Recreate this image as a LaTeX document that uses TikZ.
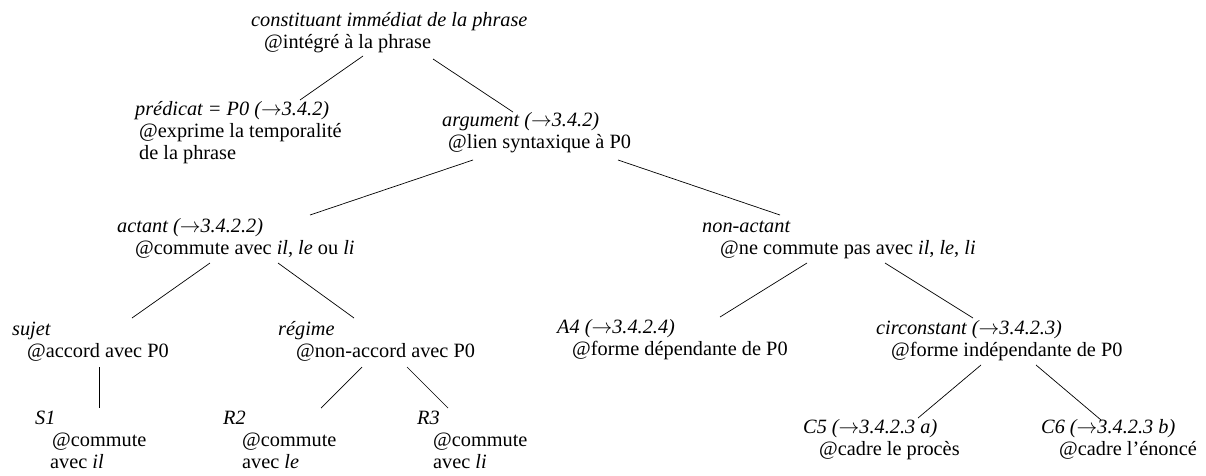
\documentclass[tikz,border=0pt]{standalone}
\usepackage{fontspec}
\setmainfont{Liberation Serif}
\newcommand{\ra}{\ensuremath{\rightarrow}}

\begin{document}
\begin{tikzpicture}[x=1pt,y=-1pt,lab/.style={anchor=north west,inner sep=0pt,align=left,font=\fontsize{20.3}{22}\selectfont},edge/.style={line width=0.7pt}]
\useasboundingbox (0,0) rectangle (1206,475);
% level 0 and 1
\node[lab] (root) at (251,11) {\strut\textit{constituant immédiat de la phrase}\\\hspace*{13pt}@intégré à la phrase};
\node[lab] (pred) at (135,100) {\strut\textit{prédicat = P0 (\ra3.4.2)}\\\hspace*{4pt}@exprime la temporalité\\\hspace*{4pt}de la phrase};
\node[lab] (arg) at (442,111) {\strut\textit{argument (\ra3.4.2)}\\\hspace*{6pt}@lien syntaxique à P0};
% level 2
\node[lab] (act) at (117,217) {\strut\textit{actant (\ra3.4.2.2)}\\\hspace*{18pt}@commute avec \textit{il}, \textit{le} ou \textit{li}};
\node[lab] (nonact) at (702,217) {\strut\textit{non-actant}\\\hspace*{18pt}@ne commute pas avec \textit{il}, \textit{le}, \textit{li}};
% level 3
\node[lab] (suj) at (12,320) {\strut\textit{sujet}\\\hspace*{15pt}@accord avec P0};
\node[lab] (reg) at (278,320) {\strut\textit{régime}\\\hspace*{18pt}@non-accord avec P0};
\node[lab] (a4) at (557,318) {\strut\textit{A4 (\ra3.4.2.4)}\\\hspace*{15pt}@forme dépendante de P0};
\node[lab] (circ) at (876,319) {\strut\textit{circonstant (\ra3.4.2.3)}\\\hspace*{15pt}@forme indépendante de P0};
% level 4
\node[lab] (s1) at (35,409) {\strut\textit{S1}\\\hspace*{17pt}@commute\\\hspace*{15pt}avec \textit{il}};
\node[lab] (r2) at (223,409) {\strut\textit{R2}\\\hspace*{19pt}@commute\\\hspace*{19pt}avec \textit{le}};
\node[lab] (r3) at (417,409) {\strut\textit{R3}\\\hspace*{16pt}@commute\\\hspace*{16pt}avec \textit{li}};
\node[lab] (c5) at (803,418) {\strut\textit{C5 (\ra3.4.2.3 a)}\\\hspace*{16pt}@cadre le procès};
\node[lab] (c6) at (1041,418) {\strut\textit{C6 (\ra3.4.2.3 b)}\\\hspace*{18pt}@cadre l’énoncé};
% branches
\draw[edge] ([shift={(112,45)}]root.north west) -- ([shift={(165,0)}]pred.north west);
\draw[edge] ([shift={(182,48)}]root.north west) -- ([shift={(71,1)}]arg.north west);
\draw[edge] ([shift={(31,49)}]arg.north west) -- ([shift={(193,-2)}]act.north west);
\draw[edge] ([shift={(176,49)}]arg.north west) -- ([shift={(78,-2)}]nonact.north west);
\draw[edge] ([shift={(93,46)}]act.north west) -- ([shift={(120,-2)}]suj.north west);
\draw[edge] ([shift={(161,46)}]act.north west) -- ([shift={(76,-2)}]reg.north west);
\draw[edge] ([shift={(105,46)}]nonact.north west) -- ([shift={(163,-1)}]a4.north west);
\draw[edge] ([shift={(183,46)}]nonact.north west) -- ([shift={(97,-1)}]circ.north west);
\draw[edge] ([shift={(87,47)}]suj.north west) -- ([shift={(64,-1)}]s1.north west);
\draw[edge] ([shift={(84,47)}]reg.north west) -- ([shift={(98,-1)}]r2.north west);
\draw[edge] ([shift={(129,47)}]reg.north west) -- ([shift={(31,-1)}]r3.north west);
\draw[edge] ([shift={(105,46)}]circ.north west) -- ([shift={(115,0)}]c5.north west);
\draw[edge] ([shift={(160,46)}]circ.north west) -- ([shift={(60,2)}]c6.north west);
\end{tikzpicture}
\end{document}
